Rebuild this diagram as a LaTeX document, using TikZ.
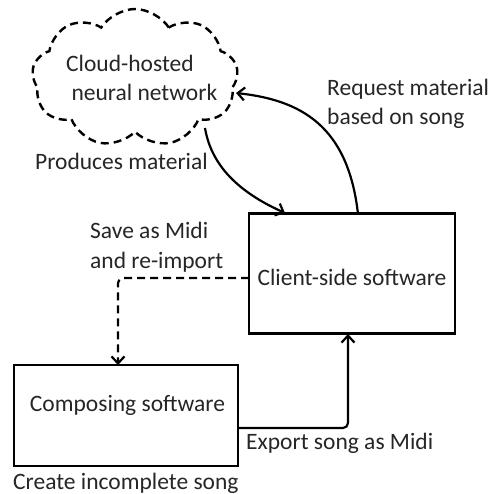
\documentclass[tikz,border=0pt]{standalone}
\usepackage{fontspec}
\setmainfont{Carlito}
\usetikzlibrary{shapes.symbols,arrows.meta}
\begin{document}
\begin{tikzpicture}[x=1pt,y=-1pt,
  lbl/.style={inner sep=0pt,font=\fontsize{23.5}{29.5}\selectfont,text=black!85},
  boxn/.style={draw,line width=2.8pt,inner sep=0pt},
  conn/.style={line width=2.2pt,-{Straight Barb[length=7pt,width=13pt,line width=2.2pt]}},
  dsh/.style={dash pattern=on 8pt off 5pt}]
\useasboundingbox (0,0) rectangle (495,494);
% cloud
\node[cloud,cloud puffs=9,cloud puff arc=115,cloud ignores aspect,draw,line width=2.4pt,dsh,
      minimum width=206pt,minimum height=138pt,inner sep=0pt] (nn) at (135,78) {};
\node[lbl,anchor=west,align=left] (nnt) at (66,78) {Cloud-hosted\\\ neural network};
% boxes
\node[boxn,minimum width=206pt,minimum height=120pt] (client) at (352,273.5) {};
\node[lbl] (clientt) at (352,277) {Client-side software};
\node[boxn,minimum width=224pt,minimum height=101pt] (comp) at (126,415.5) {};
\node[lbl] (compt) at (127.5,405) {Composing software};
% labels
\node[lbl,anchor=west] (create) at (13,483) {Create incomplete song};
\node[lbl,anchor=west] (export) at (246,443) {Export song as Midi};
\node[lbl,anchor=west] (prod) at (35,161) {Produces material};
\node[lbl,anchor=west,align=left] (save) at (90,247) {Save as Midi\\and re-import};
\node[lbl,anchor=west,align=left] (req) at (327,104) {Request material\\based on song};
% connector end points
\coordinate (reqS) at (358,214);
\coordinate (reqE) at (236,93);
\coordinate (prodS) at (205,128);
\coordinate (prodE) at (285,213);
\coordinate (expS) at (238,428);
\coordinate (expE) at (348,334);
\coordinate (saveS) at (249,278);
\coordinate (saveE) at (118,365);
% connectors
\draw[conn] (reqS) .. controls (348,125) and (300,100) .. (reqE);
\draw[conn] (prodS) .. controls (212,170) and (245,195) .. (prodE);
\draw[conn,rounded corners=5pt] (expS) -- (expS -| expE) -- (expE);
\draw[conn,dsh,rounded corners=5pt] (saveS) -- (saveS -| saveE) -- (saveE);
\end{tikzpicture}
\end{document}
